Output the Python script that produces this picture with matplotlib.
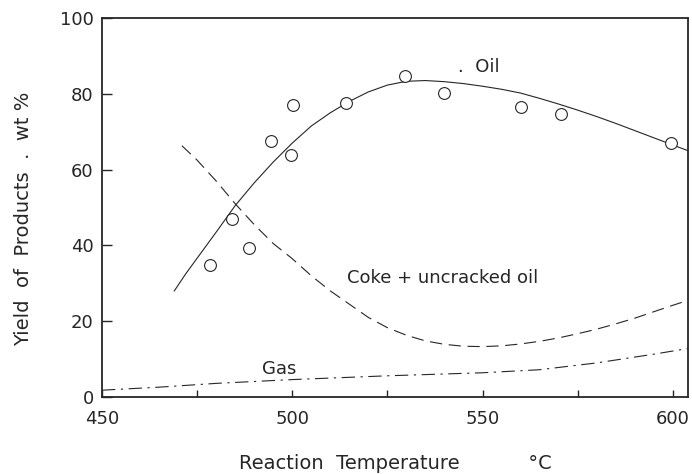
"""
Yield of products vs reaction temperature
"""

import matplotlib
matplotlib.use("Agg")
import matplotlib.pyplot as plt
from matplotlib.ticker import MultipleLocator

# ── data ──────────────────────────────────────────────────────────

# measured oil yields (open circles)
oil_temp = [478.5, 484.2, 488.7, 494.4, 499.6, 500.1, 514.0, 529.6, 539.8, 560.0, 570.5, 599.6]
oil_yield = [34.8, 47.0, 39.4, 67.6, 63.9, 77.0, 77.7, 84.7, 80.3, 76.4, 74.6, 66.9]

# fitted oil curve
oil_fit_x = [469, 472, 476, 480, 485, 490, 495, 500, 505, 510, 515, 520, 525, 530,
             535, 540, 545, 550, 555, 560, 565, 570, 575, 580, 585, 590, 595, 600, 604]
oil_fit_y = [28.0, 32.5, 38.0, 43.5, 50.5, 56.5, 62.0, 67.0, 71.5, 75.0, 78.0, 80.5, 82.3, 83.3,
             83.5, 83.2, 82.7, 82.0, 81.2, 80.2, 78.8, 77.3, 75.7, 74.0, 72.2, 70.3, 68.4, 66.5, 65.0]

# coke + uncracked oil
coke_x = [471, 475, 480, 485, 490, 495, 500, 505, 510, 515, 520, 525, 530, 535,
          540, 545, 550, 555, 560, 565, 570, 575, 580, 585, 590, 595, 600, 604]
coke_y = [66.3, 62.5, 57.0, 51.0, 45.5, 40.5, 36.5, 32.0, 28.0, 24.5, 21.0, 18.3, 16.3, 14.8,
          13.9, 13.4, 13.3, 13.5, 14.0, 14.7, 15.6, 16.7, 17.9, 19.3, 20.8, 22.5, 24.2, 25.5]

# gas
gas_x = [450, 465, 480, 500, 525, 550, 565, 580, 595, 604]
gas_y = [1.8, 2.6, 3.6, 4.6, 5.6, 6.4, 7.2, 9.0, 11.3, 12.8]

x_ticks = [450, 500, 550, 600]
y_ticks = [0, 20, 40, 60, 80, 100]

# ── plot ──────────────────────────────────────────────────────────

plt.rcParams["font.family"] = ["DejaVu Sans"]
ink = "#262626"

fig = plt.figure(figsize=(6.92, 4.74), dpi=100)
ax = fig.add_axes([0.1474, 0.1624, 0.8468, 0.7996])

ax.plot(oil_fit_x, oil_fit_y, color=ink, linewidth=0.8, zorder=2)
ax.plot(oil_temp, oil_yield, linestyle="none", marker="o", markersize=8.5,
        markerfacecolor="white", markeredgecolor=ink, markeredgewidth=0.8, zorder=3)
ax.plot(coke_x, coke_y, color=ink, linewidth=0.8, linestyle=(0, (11, 6)), zorder=2)
ax.plot(gas_x, gas_y, color=ink, linewidth=0.8, linestyle=(0, (12, 5, 2, 5)), zorder=2)

ax.text(549, 87, ".  Oil", fontsize=13, color=ink, ha="center", va="center")
ax.text(539.6, 31.5, "Coke + uncracked oil", fontsize=13, color=ink, ha="center", va="center")
ax.text(496.5, 7.3, "Gas", fontsize=13, color=ink, ha="center", va="center")

ax.set_xlim(450, 604)
ax.set_ylim(0, 100)
ax.set_xticks(x_ticks)
ax.set_yticks(y_ticks)
ax.xaxis.set_minor_locator(MultipleLocator(25))
ax.tick_params(axis="both", which="both", direction="in", colors=ink,
               labelsize=13, width=1.0)
ax.tick_params(axis="x", which="both", length=5, pad=9)
ax.tick_params(axis="y", which="major", length=7, pad=6)
for s in ax.spines.values():
    s.set_linewidth(1.3)
    s.set_color(ink)

ax.set_xlabel("Reaction  Temperature           °C", fontsize=14, color=ink, labelpad=19)
ax.set_ylabel("Yield  of  Products  .  wt %", fontsize=14, color=ink, labelpad=12)
ax.yaxis.set_label_coords(-0.118, 0.47)

plt.savefig("out.png", dpi=100)
plt.close()
